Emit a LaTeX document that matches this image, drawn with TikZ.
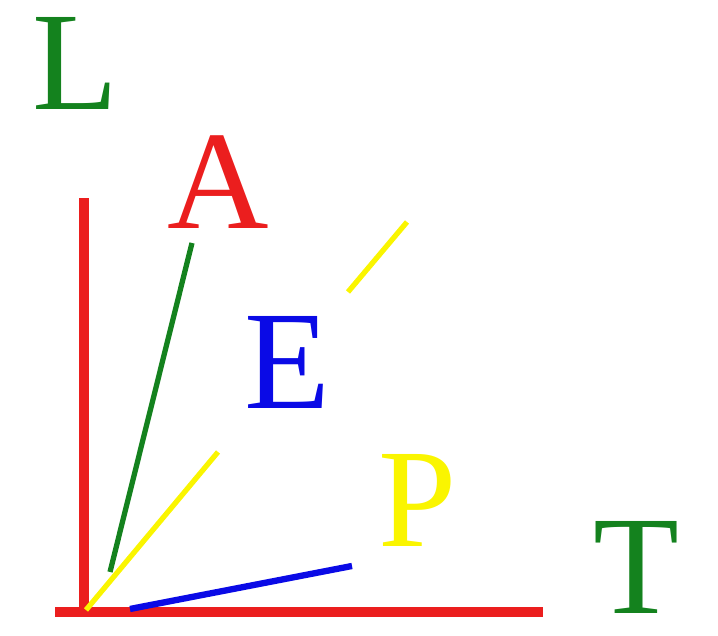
\documentclass[tikz,border=0pt]{standalone}
\usepackage{fontspec}
\setmainfont{Liberation Serif}
\usepackage{xcolor}
\usepackage{tikz}
\usetikzlibrary{positioning}
\definecolor{axisred}{RGB}{235,30,30}
\definecolor{lgreen}{RGB}{20,130,30}
\definecolor{lblue}{RGB}{10,10,230}
\definecolor{lyellow}{RGB}{250,245,0}

\begin{document}
\begin{tikzpicture}[
  axis/.style={draw=axisred, line width=2.6pt},
  ray/.style={line width=1.5pt},
  lbl/.style={inner sep=0pt, font=\fontsize{40}{40}\selectfont}
]
\useasboundingbox (0,0) rectangle (7.18,6.36);

% === Axes ====================================================================
\coordinate (O)    at (0.84, 0.24);
\coordinate (Ltop) at (0.84, 4.38);
\coordinate (Tl)   at (0.55, 0.24);
\coordinate (Tr)   at (5.43, 0.24);
\draw[axis] (O) -- (Ltop);
\draw[axis] (Tl) -- (Tr);

% === Labels ==================================================================
\node[lbl, text=lgreen]  (L) at (0.75, 5.73) {L};
\node[lbl, text=axisred] (A) at (2.18, 4.54) {A};
\node[lbl, text=lblue]   (E) at (2.87, 2.74) {E};
\node[lbl, text=lyellow] (P) at (4.18, 1.36) {P};
\node[lbl, text=lgreen]  (T) at (6.36, 0.69) {T};

% === Rays ====================================================================
\coordinate (G0) at (1.10, 0.64);
\coordinate (G1) at (1.92, 3.93);
\draw[ray, lgreen] (G0) -- (G1);

\coordinate (Y0) at (0.86, 0.26);
\coordinate (Y1) at (2.18, 1.84);
\coordinate (Y2) at (3.48, 3.44);
\coordinate (Y3) at (4.07, 4.14);
\draw[ray, lyellow] (Y0) -- (Y1);
\draw[ray, lyellow] (Y2) -- (Y3);

\coordinate (B0) at (1.30, 0.27);
\coordinate (B1) at (3.52, 0.70);
\draw[ray, lblue, line width=1.8pt] (B0) -- (B1);

\end{tikzpicture}
\end{document}
